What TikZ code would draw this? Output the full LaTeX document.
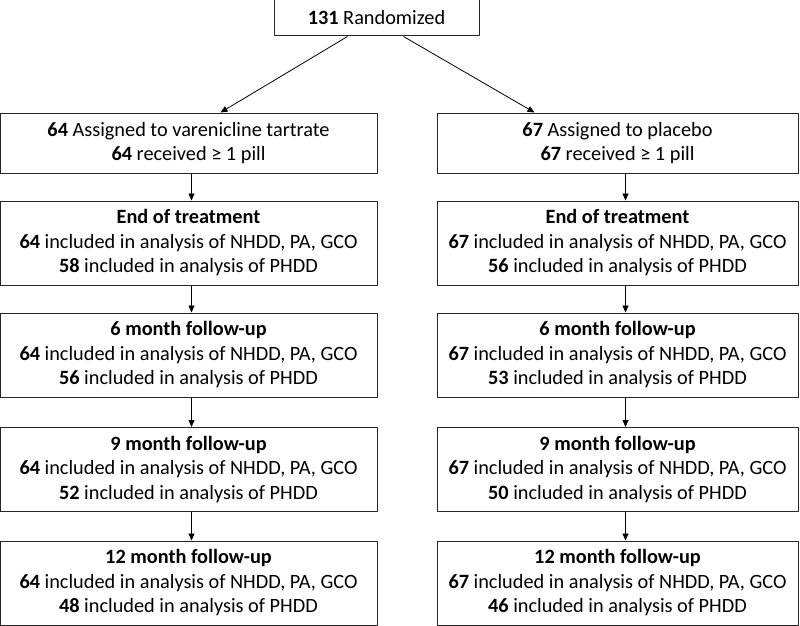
\documentclass[tikz,border=0pt]{standalone}
\usepackage{fontspec}
\setmainfont{Carlito}
\usetikzlibrary{arrows.meta}
\begin{document}
\begin{tikzpicture}[x=1pt, y=-1pt, line join=round, >={Triangle[length=7pt,width=6pt]}]
			\tikzset{box/.style={draw=black!85, line width=1pt, inner sep=0pt, align=center,
				font=\fontsize{20.3}{24.5}\selectfont},
				lbox/.style={box, minimum width=377pt, minimum height=84pt},
				rbox/.style={box, minimum width=361pt, minimum height=84pt}}
			\def\eotlabel{\textbf{End of treatment}}
			\useasboundingbox (0,0) rectangle (800,626);
			\node[box, minimum width=205pt, minimum height=36pt] (R) at (376.5,18) {\textbf{131} Randomized};
			\node[lbox, minimum height=60pt] (V1) at (188.5,143) {\textbf{64} Assigned to varenicline tartrate\\ \textbf{64} received ≥ 1 pill};
			\node[rbox, minimum height=60pt] (P1) at (617.5,143) {\textbf{67} Assigned to placebo\\ \textbf{67} received ≥ 1 pill};
			\node[lbox] (V2) at (188.5,243) {\eotlabel\\ \textbf{64} included in analysis of NHDD, PA, GCO\\ \textbf{58} included in analysis of PHDD};
			\node[rbox] (P2) at (617.5,243) {\eotlabel\\ \textbf{67} included in analysis of NHDD, PA, GCO\\ \textbf{56} included in analysis of PHDD};
			\node[lbox] (V3) at (188.5,355) {\textbf{6 month follow-up}\\ \textbf{64} included in analysis of NHDD, PA, GCO\\ \textbf{56} included in analysis of PHDD};
			\node[rbox] (P3) at (617.5,355) {\textbf{6 month follow-up}\\ \textbf{67} included in analysis of NHDD, PA, GCO\\ \textbf{53} included in analysis of PHDD};
			\node[lbox] (V4) at (188.5,469.5) {\textbf{9 month follow-up}\\ \textbf{64} included in analysis of NHDD, PA, GCO\\ \textbf{52} included in analysis of PHDD};
			\node[rbox] (P4) at (617.5,469.5) {\textbf{9 month follow-up}\\ \textbf{67} included in analysis of NHDD, PA, GCO\\ \textbf{50} included in analysis of PHDD};
			\node[lbox] (V5) at (188.5,583) {\textbf{12 month follow-up}\\ \textbf{64} included in analysis of NHDD, PA, GCO\\ \textbf{48} included in analysis of PHDD};
			\node[rbox] (P5) at (617.5,583) {\textbf{12 month follow-up}\\ \textbf{67} included in analysis of NHDD, PA, GCO\\ \textbf{46} included in analysis of PHDD};
			\draw[->, line width=0.8pt] ([xshift=-29pt]R.south)--([xshift=32pt]V1.north);
			\draw[->, line width=0.8pt] ([xshift=27pt]R.south)--([xshift=-83pt]P1.north);
			\foreach \a/\b in {1/2, 2/3, 3/4, 4/5}{
				\draw[->, line width=0.8pt] ([xshift=3pt]V\a.south)--([xshift=3pt]V\b.north);
				\draw[->, line width=0.8pt] ([xshift=8pt]P\a.south)--([xshift=8pt]P\b.north);
			}
	\end{tikzpicture}
\end{document}
